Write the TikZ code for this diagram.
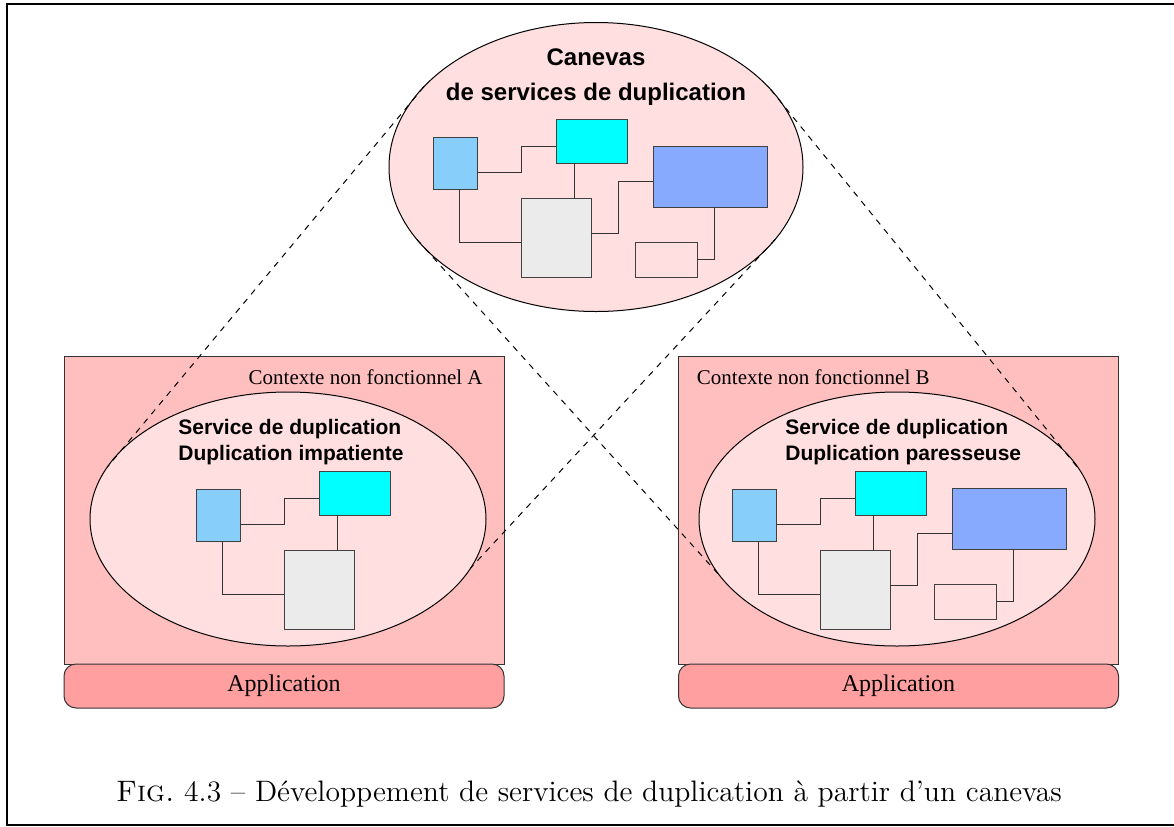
\documentclass[tikz,border=0pt]{standalone}
\usepackage{fontspec}
\usepackage{graphicx}
\usetikzlibrary{shapes.geometric}
\newfontfamily\diagsans{Liberation Sans}
\newfontfamily\diagserif{Liberation Serif}
\definecolor{ctxpink}{HTML}{FFBFBF}
\definecolor{apppink}{HTML}{FF9F9F}
\definecolor{ellpink}{HTML}{FFDFDF}
\definecolor{compsky}{HTML}{87CEFA}
\definecolor{compblue}{HTML}{87AAFF}
\definecolor{compgray}{HTML}{EBEBEB}
\definecolor{compcyan}{HTML}{00FFFF}
\colorlet{compline}{black!75}
\tikzstyle{comp} = [%
	rectangle,
	draw=compline,
	inner sep=0pt,
	outer sep=0pt,
	line width=0.5pt
]
\tikzstyle{comp sky} = [comp, fill=compsky, minimum width=22pt, minimum height=26pt]
\tikzstyle{comp cyan} = [comp, fill=compcyan, minimum width=35.5pt, minimum height=22pt]
\tikzstyle{comp gray} = [comp, fill=compgray, minimum width=35pt, minimum height=39.5pt]
\tikzstyle{comp blue} = [comp, fill=compblue, minimum width=57pt, minimum height=30.5pt]
\tikzstyle{comp empty} = [comp, minimum width=31pt, minimum height=17.5pt]
\tikzstyle{wire} = [draw=black!80, line width=0.5pt]
\tikzstyle{service} = [%
	ellipse,
	draw=black,
	fill=ellpink,
	inner sep=0pt,
	outer sep=0pt,
	line width=0.5pt
]
\tikzstyle{context} = [%
	rectangle,
	draw=black!80,
	fill=ctxpink,
	inner sep=0pt,
	outer sep=0pt,
	line width=0.5pt,
	minimum width=220pt,
	minimum height=154pt
]
\tikzstyle{application} = [%
	rectangle,
	rounded corners=6pt,
	draw=black!80,
	fill=apppink,
	line width=0.5pt,
	minimum width=220pt,
	minimum height=22pt,
	font=\diagserif\fontsize{12}{14}\selectfont
]
\tikzstyle{context label} = [inner sep=0pt, font=\diagserif\fontsize{10.5}{12}\selectfont]
\tikzstyle{service label} = [inner sep=0pt, align=left, font=\diagsans\bfseries\fontsize{10.5}{13}\selectfont]
\tikzstyle{zoom line} = [dashed, line width=0.5pt]

% the three boxes every service holds
\newcommand{\dupcore}{%
	\node[comp sky] (lb) at (455,163) {};
	\node[comp cyan] (cy) at (591.5,141) {};
	\node[comp gray] (gr) at (556,237.5) {};
	\draw[wire] (lb.east |- 0,172) -| (gr.west |- 0,146) -- (cy.west |- 0,146);
	\draw[wire] (574,0 |- cy.south) -- (574,0 |- gr.north);
	\draw[wire] (459,0 |- lb.south) |- (gr.west |- 0,242);
}
% the two boxes only the framework and the lazy service hold
\newcommand{\dupextra}[1]{%
	\node[comp blue] (bl) at (710,{176.5+#1}) {};
	\node[comp empty] (wh) at (666,{259.5+#1}) {};
	\draw[wire] (gr.east |- 0,233) -| (618,181) -- (bl.west |- 0,181);
	\draw[wire] (714,0 |- bl.south) |- (wh.east);
}

\begin{document}
\begin{tikzpicture}[x=0.5pt, y=-0.5pt]
\useasboundingbox (0,0) rectangle (1174,826);

% outer frame
\draw[line width=1pt] (7,4) rectangle (1180,825);

% framework on top
\node[service, minimum width=207pt, minimum height=144.5pt] (canevas) at (596,167) {};
\node[align=center, inner sep=0pt, font=\diagsans\bfseries\fontsize{12}{17.5}\selectfont] (canevas title) at (596,77) {%
	Canevas\\de services de duplication
};
\dupcore
\dupextra{0}

% context A, eager duplication
\node[context] (ctxa) at (284,510) {};
\node[application] (appa) at (284,686) {Application};
\node[context label, anchor=east] at ([xshift=-10.5pt, yshift=-10.5pt] ctxa.north east) {Contexte non fonctionnel A};
\node[service, minimum width=198pt, minimum height=127pt] (ella) at (288,519) {};
\node[service label, anchor=west] (ella title) at (178,442) {%
	Service de duplication\\Duplication impatiente
};
\begin{scope}[shift={(-237,352)}, name prefix=a-]
	\dupcore
\end{scope}

% context B, lazy duplication
\node[context] (ctxb) at (898.5,510) {};
\node[application] (appb) at (898.5,686) {Application};
\node[context label, anchor=west] at ([xshift=9pt, yshift=-10.5pt] ctxb.north west) {Contexte non fonctionnel B};
\node[service, minimum width=198pt, minimum height=127pt] (ellb) at (897,519) {};
\node[service label, anchor=west] (ellb title) at (785,442) {%
	Service de duplication\\Duplication paresseuse
};
\begin{scope}[shift={(299,352)}, name prefix=b-]
	\dupcore
	\dupextra{-10}
\end{scope}

% zoom lines from the framework
\draw[zoom line] (canevas.155) -- (ella.164);
\draw[zoom line] (canevas.338) -- (ella.345);
\draw[zoom line] (canevas.24) -- (ellb.15);
\draw[zoom line] (canevas.202) -- (ellb.198);

% caption
\node[inner sep=0pt, anchor=base, font=\fontsize{14.8}{17}\selectfont] (caption) at (589,801) {%
	\textsc{Fig.}~4.3 -- Développement de services de duplication à partir d'un canevas
};
\end{tikzpicture}
\end{document}
